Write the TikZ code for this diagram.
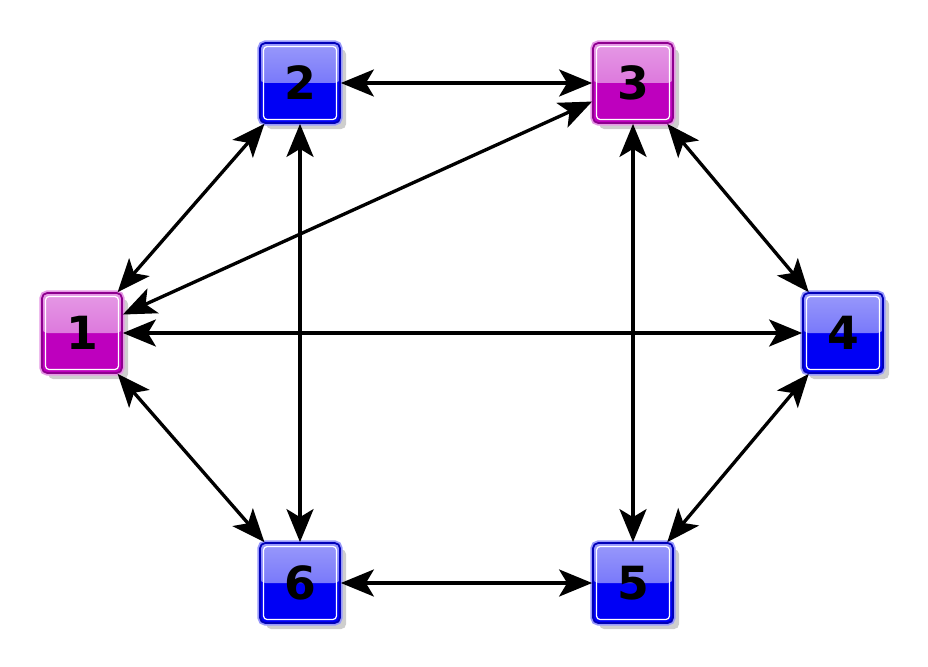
\documentclass[tikz,border=0pt]{standalone}
\usepackage{fontspec}
\setmainfont{DejaVu Sans}
\usepackage{tikz}
\usetikzlibrary{arrows.meta,shadows}

\definecolor{hubmag}{RGB}{190,0,190}
\definecolor{leafblue}{RGB}{0,0,245}

\tikzset{
  sq/.style={minimum size=1.6cm, inner sep=0pt, rounded corners=3pt,
    draw=#1!75!black, line width=1pt, fill=#1,
    font=\fontsize{26}{26}\selectfont\bfseries,
    drop shadow={shadow xshift=3.5pt, shadow yshift=-3.5pt, opacity=0.35, fill=black!55},
    preaction={draw=#1!40!white, line width=3pt},
    path picture={
      \fill[top color=#1!40!white, bottom color=#1!65!white]
        (path picture bounding box.north west) rectangle (path picture bounding box.east);
      \draw[white, line width=0.7pt, rounded corners=2pt]
        ([shift={(2pt,-2pt)}]path picture bounding box.north west) rectangle
        ([shift={(-2pt,2pt)}]path picture bounding box.south east);
    }},
  hub/.style={sq=hubmag},
  leaf/.style={sq=leafblue},
  link/.style={{Stealth[length=0.66cm,width=0.54cm,inset=0.16cm]}-{Stealth[length=0.66cm,width=0.54cm,inset=0.16cm]}, line width=1.9pt}
}

\begin{document}
\begin{tikzpicture}
    \useasboundingbox (0,0) rectangle (18.56,-13.34);
    \node[hub]  (n1) at (1.64,-6.66)  {1};
    \node[leaf] (n2) at (6.0,-1.66)   {2};
    \node[hub]  (n3) at (12.66,-1.66) {3};
    \node[leaf] (n4) at (16.86,-6.66) {4};
    \node[leaf] (n5) at (12.66,-11.66) {5};
    \node[leaf] (n6) at (6.0,-11.66)  {6};

    \draw[link] (n1)--(n2);
    \draw[link] (n1)--(n3);
    \draw[link] (n1)--(n4);
    \draw[link] (n1)--(n6);
    \draw[link] (n2)--(n3);
    \draw[link] (n2)--(n6);
    \draw[link] (n3)--(n4);
    \draw[link] (n3)--(n5);
    \draw[link] (n4)--(n5);
    \draw[link] (n6)--(n5);
    
\end{tikzpicture}
\end{document}
